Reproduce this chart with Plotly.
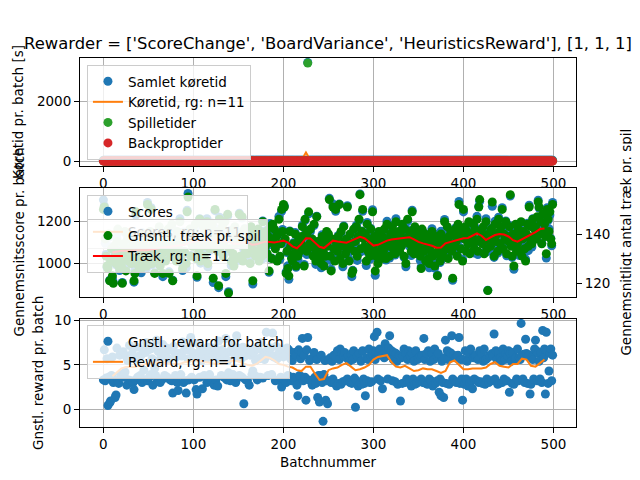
import plotly.graph_objects as go

# Batchnumre og x-værdier for de rullende gennemsnit (rg: n=11)
batchnumre = list(range(500))
rg_batchnumre = list(range(10, 491, 5))

# Køretider pr. batch [s]
backproptider = [
    21, 20, 22, 21, 20, 21, 22, 20, 21, 21, 20, 22, 21, 20, 21, 22, 21, 20, 21, 22,
    20, 21, 21, 22, 20, 21, 20, 22, 21, 20, 21, 21, 22, 20, 21, 20, 21, 22, 21, 20,
    22, 21, 20, 21, 21, 20, 22, 21, 20, 21, 22, 20, 21, 21, 20, 21, 22, 21, 20, 21,
    21, 20, 21, 22, 20, 21, 21, 20, 22, 21, 20, 21, 20, 22, 21, 21, 20, 21, 22, 20,
    20, 22, 21, 20, 21, 22, 21, 20, 21, 20, 22, 21, 21, 20, 21, 20, 22, 21, 20, 21,
    21, 21, 20, 22, 21, 20, 21, 22, 20, 21, 21, 20, 22, 21, 20, 21, 21, 22, 20, 21,
    22, 20, 21, 21, 20, 22, 21, 20, 21, 21, 22, 20, 21, 20, 21, 22, 21, 20, 21, 21,
    20, 21, 22, 20, 21, 21, 20, 21, 22, 21, 20, 21, 21, 20, 22, 21, 20, 21, 22, 20,
    21, 22, 20, 21, 20, 21, 22, 21, 20, 21, 21, 20, 22, 21, 21, 20, 21, 22, 20, 21,
    20, 21, 21, 22, 21, 20, 21, 20, 22, 21, 20, 22, 21, 21, 20, 21, 20, 22, 21, 20,
    21, 20, 22, 21, 20, 21, 21, 22, 20, 21, 22, 21, 20, 21, 21, 20, 22, 20, 21, 21,
    22, 21, 20, 21, 22, 20, 21, 23, 20, 22, 21, 20, 21, 22, 21, 20, 21, 21, 20, 22,
    20, 21, 21, 20, 22, 21, 20, 21, 21, 20, 21, 22, 20, 21, 21, 20, 22, 21, 20, 21,
    21, 22, 20, 21, 21, 20, 22, 21, 21, 20, 21, 22, 21, 20, 21, 21, 20, 22, 21, 20,
    20, 21, 22, 21, 20, 21, 21, 20, 22, 21, 21, 20, 21, 22, 20, 21, 21, 20, 21, 22,
    21, 20, 21, 22, 21, 20, 22, 21, 20, 21, 20, 21, 22, 21, 20, 22, 21, 20, 21, 21,
    22, 21, 20, 21, 20, 22, 21, 21, 20, 21, 22, 20, 21, 21, 20, 21, 22, 21, 20, 21,
    20, 22, 21, 20, 21, 21, 20, 22, 21, 20, 21, 21, 22, 20, 21, 20, 21, 22, 21, 21,
    21, 20, 21, 21, 22, 20, 21, 20, 22, 21, 20, 21, 21, 22, 20, 21, 20, 21, 21, 22,
    22, 21, 20, 22, 21, 21, 20, 21, 20, 22, 21, 20, 22, 21, 21, 20, 21, 22, 20, 21,
    21, 20, 22, 21, 20, 21, 22, 21, 21, 20, 21, 22, 20, 21, 20, 21, 22, 21, 20, 22,
    20, 21, 21, 20, 22, 21, 20, 21, 22, 21, 20, 21, 21, 20, 22, 21, 21, 20, 21, 20,
    21, 22, 20, 21, 21, 20, 21, 22, 20, 21, 22, 21, 20, 21, 21, 22, 20, 21, 21, 20,
    22, 20, 21, 21, 20, 22, 21, 20, 21, 21, 20, 22, 21, 21, 20, 21, 22, 20, 21, 21,
    20, 21, 22, 21, 21, 20, 22, 21, 20, 21, 21, 20, 21, 22, 20, 21, 21, 22, 20, 21,
]
spilletider = [
    25, 24, 26, 25, 25, 24, 26, 25, 24, 25, 26, 25, 24, 25, 26, 24, 25, 25, 26, 24,
    24, 25, 26, 24, 25, 26, 25, 24, 25, 26, 25, 24, 26, 25, 24, 25, 26, 25, 24, 25,
    26, 25, 24, 25, 26, 25, 25, 24, 26, 25, 24, 25, 26, 24, 25, 25, 26, 24, 25, 26,
    25, 26, 24, 25, 25, 26, 24, 25, 26, 25, 24, 26, 25, 24, 25, 26, 25, 25, 24, 26,
    24, 25, 25, 26, 24, 25, 26, 25, 24, 25, 26, 25, 24, 26, 25, 24, 25, 26, 25, 24,
    25, 24, 26, 25, 26, 24, 25, 25, 26, 24, 25, 26, 25, 24, 26, 25, 24, 25, 25, 26,
    26, 25, 24, 25, 24, 26, 25, 24, 25, 26, 24, 25, 26, 25, 24, 25, 26, 25, 24, 25,
    25, 26, 25, 24, 25, 26, 24, 25, 26, 25, 25, 24, 26, 25, 24, 26, 25, 24, 25, 26,
    24, 25, 26, 25, 24, 25, 25, 26, 24, 25, 26, 25, 24, 25, 26, 24, 25, 26, 25, 25,
    25, 24, 25, 26, 25, 24, 26, 25, 25, 24, 26, 25, 24, 25, 26, 25, 24, 25, 26, 24,
    26, 25, 24, 25, 26, 25, 24, 26, 25, 24, 25, 25, 26, 24, 25, 26, 25, 24, 25, 26,
    25, 24, 26, 25, 24, 25, 26, 3250, 24, 26, 25, 24, 25, 26, 25, 24, 25, 26, 25, 24,
    24, 25, 26, 25, 24, 25, 26, 25, 25, 24, 26, 25, 24, 25, 26, 25, 24, 25, 26, 25,
    25, 26, 24, 25, 26, 25, 24, 25, 25, 26, 24, 25, 26, 25, 24, 26, 25, 24, 25, 26,
    26, 24, 25, 26, 25, 24, 25, 26, 24, 25, 26, 25, 24, 25, 26, 25, 24, 26, 25, 24,
    25, 25, 26, 24, 25, 26, 25, 24, 26, 25, 24, 25, 26, 25, 25, 24, 26, 25, 24, 25,
    24, 26, 25, 24, 25, 26, 25, 24, 25, 26, 25, 24, 26, 25, 24, 25, 25, 26, 24, 25,
    26, 25, 24, 25, 26, 24, 25, 26, 25, 24, 25, 26, 25, 24, 25, 26, 24, 25, 26, 25,
    25, 24, 26, 25, 24, 25, 26, 25, 24, 26, 25, 25, 24, 26, 25, 24, 25, 26, 25, 24,
    24, 25, 25, 26, 24, 25, 26, 25, 24, 25, 26, 24, 25, 26, 25, 24, 25, 26, 25, 25,
    26, 25, 24, 25, 26, 25, 24, 25, 26, 24, 25, 26, 25, 24, 26, 25, 24, 25, 26, 25,
    25, 26, 25, 24, 25, 26, 24, 25, 25, 26, 24, 25, 26, 25, 24, 25, 26, 24, 25, 26,
    24, 25, 26, 25, 25, 24, 26, 25, 24, 25, 26, 25, 24, 26, 25, 24, 25, 26, 25, 24,
    25, 24, 25, 26, 24, 25, 26, 25, 25, 24, 26, 25, 24, 25, 26, 25, 24, 25, 26, 25,
    26, 25, 24, 25, 26, 24, 25, 26, 25, 24, 25, 26, 25, 24, 25, 26, 25, 24, 26, 25,
]
samlet_koeretid = [
    46, 44, 48, 46, 45, 45, 48, 45, 45, 46, 46, 47, 45, 45, 47, 46, 46, 45, 47, 46,
    44, 46, 47, 46, 45, 47, 45, 46, 46, 46, 46, 45, 48, 45, 45, 45, 47, 47, 45, 45,
    48, 46, 44, 46, 47, 45, 47, 45, 46, 46, 46, 45, 47, 45, 45, 46, 48, 45, 45, 47,
    46, 46, 45, 47, 45, 47, 45, 45, 48, 46, 44, 47, 45, 46, 46, 47, 45, 46, 46, 46,
    44, 47, 46, 46, 45, 47, 47, 45, 45, 45, 48, 46, 45, 46, 46, 44, 47, 47, 45, 45,
    46, 45, 46, 47, 47, 44, 46, 47, 46, 45, 46, 46, 47, 45, 46, 46, 45, 47, 45, 47,
    48, 45, 44, 46, 44, 48, 46, 44, 46, 47, 46, 45, 47, 45, 45, 47, 47, 45, 45, 46,
    45, 47, 47, 44, 46, 47, 44, 46, 48, 46, 45, 45, 47, 45, 46, 46, 45, 45, 47, 46,
    45, 47, 46, 46, 44, 46, 47, 47, 44, 46, 47, 45, 46, 46, 47, 44, 46, 48, 45, 46,
    45, 45, 46, 48, 46, 44, 47, 45, 47, 45, 46, 47, 45, 46, 46, 46, 44, 47, 47, 44,
    47, 45, 46, 46, 46, 46, 45, 48, 45, 45, 47, 46, 46, 45, 46, 46, 47, 44, 46, 47,
    47, 45, 46, 46, 46, 45, 47, 3272, 44, 48, 46, 44, 46, 48, 46, 44, 46, 47, 45, 46,
    44, 46, 47, 45, 46, 46, 46, 46, 46, 44, 47, 47, 44, 46, 47, 45, 46, 46, 46, 46,
    46, 48, 44, 46, 47, 45, 46, 46, 46, 46, 45, 47, 47, 45, 45, 47, 45, 46, 46, 46,
    46, 45, 47, 47, 45, 45, 46, 46, 46, 46, 47, 45, 45, 47, 46, 46, 45, 46, 46, 46,
    46, 45, 47, 46, 46, 46, 47, 45, 46, 46, 44, 46, 48, 46, 45, 46, 47, 45, 46, 46,
    46, 47, 45, 45, 45, 48, 46, 45, 45, 47, 47, 44, 47, 46, 45, 46, 47, 47, 45, 46,
    46, 47, 45, 45, 47, 45, 46, 48, 46, 44, 46, 47, 47, 44, 46, 46, 45, 47, 47, 46,
    46, 44, 47, 46, 46, 45, 47, 45, 46, 47, 45, 46, 45, 48, 45, 45, 45, 47, 46, 46,
    46, 46, 45, 48, 45, 46, 46, 46, 44, 47, 47, 44, 47, 47, 46, 44, 46, 48, 45, 46,
    47, 45, 46, 46, 46, 46, 46, 46, 47, 44, 46, 48, 45, 45, 46, 46, 46, 46, 45, 47,
    45, 47, 46, 44, 47, 47, 44, 46, 47, 47, 44, 46, 47, 45, 46, 46, 47, 44, 46, 46,
    45, 47, 46, 46, 46, 44, 47, 47, 44, 46, 48, 46, 44, 47, 46, 46, 45, 47, 46, 44,
    47, 44, 46, 47, 44, 47, 47, 45, 46, 45, 46, 47, 45, 46, 46, 46, 46, 45, 47, 46,
    46, 46, 46, 46, 47, 44, 47, 47, 45, 45, 46, 46, 46, 46, 45, 47, 46, 46, 46, 46,
]
koeretid_rg = [
    46, 46, 45, 46, 46, 45, 46, 46, 46, 45,
    46, 46, 46, 45, 46, 46, 45, 46, 46, 46,
    45, 46, 46, 46, 45, 46, 46, 45, 46, 46,
    46, 45, 46, 46, 46, 45, 46, 46, 45, 46,
    46, 46, 46, 300, 47, 46, 45, 46, 46, 46,
    46, 45, 46, 46, 46, 45, 46, 46, 46, 45,
    46, 46, 45, 46, 46, 46, 45, 46, 46, 46,
    45, 46, 46, 46, 45, 46, 46, 45, 46, 46,
    46, 45, 46, 46, 46, 45, 46, 46, 45, 46,
    46, 46, 45, 46, 46, 46, 45,
]

# Gennemsnitsscore pr. batch (venstre akse) og gennemsnitligt antal træk (højre akse)
scores = [
    1300, 1272, 1095, 1042, 981, 989, 1123, 920, 1001, 1079,
    928, 910, 1060, 1042, 993, 1118, 1147, 1013, 966, 1067,
    975, 910, 1072, 1030, 1144, 978, 1042, 1118, 1001, 1079,
    1022, 1004, 1107, 1100, 911, 966, 1228, 1025, 1071, 997,
    1092, 1050, 955, 1146, 1004, 1094, 1019, 1118, 978, 1288,
    1057, 1015, 1130, 1263, 993, 1106, 1019, 955, 1118, 1067,
    1010, 1120, 1154, 995, 1074, 1059, 937, 1141, 1083, 1020,
    1115, 1062, 1142, 960, 1098, 1048, 1170, 920, 1083, 1079,
    1103, 1015, 1130, 1088, 1039, 1211, 1007, 1107, 966, 1148,
    1045, 1132, 979, 1251, 1330, 1118, 1147, 1037, 1129, 1090,
    1138, 1097, 1165, 1030, 934, 1129, 1042, 1211, 1001, 1137,
    1068, 1179, 1014, 1146, 1098, 1211, 984, 1130, 1060, 1172,
    1103, 1190, 909, 1100, 1249, 1164, 1112, 1060, 885, 1218,
    1126, 1085, 1154, 1042, 1098, 1211, 937, 1130, 1223, 866,
    1057, 1155, 990, 1123, 1039, 1001, 1159, 1095, 1013, 1137,
    1092, 1237, 1014, 1146, 1214, 1024, 1065, 1165, 1048, 1125,
    1033, 1132, 1072, 1007, 1168, 1083, 902, 1141, 1095, 1044,
    1103, 1062, 1142, 1018, 1086, 1152, 1019, 1200, 1060, 1114,
    1068, 1155, 1025, 1135, 958, 1188, 1089, 1025, 1176, 1102,
    1150, 1074, 1107, 1018, 1132, 1222, 1019, 1095, 1246, 1160,
    1266, 1272, 1095, 960, 1051, 989, 925, 1153, 1071, 1032,
    998, 1097, 1025, 1146, 981, 1094, 1019, 1118, 1048, 1114,
    1115, 1179, 1060, 995, 1202, 1152, 1042, 1153, 1234, 1102,
    1150, 1085, 1095, 1042, 1179, 1083, 995, 1223, 1095, 1067,
    1010, 1097, 979, 1135, 1051, 1001, 1089, 1037, 1141, 1090,
    1126, 1307, 1014, 972, 1109, 1281, 1054, 1013, 1246, 1102,
    1045, 1132, 1280, 1030, 1144, 1094, 984, 1177, 1095, 1055,
    1103, 1272, 1049, 1018, 1132, 1106, 937, 967, 1153, 1067,
    1092, 1179, 1014, 1135, 1202, 1328, 1054, 1153, 1246, 1125,
    1068, 1143, 990, 1193, 1051, 1129, 1019, 1165, 1083, 1253,
    1057, 1132, 944, 1042, 1098, 1013, 1135, 1060, 1083, 1032,
    1115, 1062, 1142, 1100, 1016, 1199, 1065, 1118, 1025, 1148,
    1092, 1179, 1049, 1146, 1039, 1211, 1077, 1130, 1141, 1067,
    1126, 1085, 1165, 1123, 1028, 1176, 984, 1107, 1199, 1137,
    1080, 1155, 1037, 1251, 1109, 1059, 1159, 1083, 1129, 1114,
    1115, 1074, 1014, 983, 1156, 1118, 1042, 1141, 1001, 1125,
    1068, 1027, 979, 1123, 1051, 1164, 1019, 1095, 978, 1137,
    1033, 945, 1084, 1077, 1004, 1152, 1019, 1095, 1048, 1207,
    1103, 1074, 1154, 1030, 1121, 1106, 1135, 1060, 920, 1148,
    1068, 1167, 1084, 1042, 1179, 1292, 1112, 1072, 1141, 1020,
    1243, 1120, 1154, 1065, 1144, 1106, 1182, 1048, 1129, 1114,
    1115, 1190, 1049, 1170, 1098, 1222, 1042, 1270, 1293, 1125,
    1138, 1097, 1154, 1053, 1121, 1211, 1054, 873, 1129, 1114,
    1068, 1167, 1270, 1123, 1028, 1199, 1089, 1141, 1048, 1218,
    1138, 1097, 1154, 1263, 1063, 1152, 1100, 1200, 1036, 1137,
    1092, 1179, 1318, 1088, 1028, 1152, 972, 1118, 1176, 1067,
    1080, 1167, 1037, 1135, 1191, 1048, 1100, 1153, 1060, 1020,
    1126, 1190, 1060, 1275, 1109, 1188, 1077, 1211, 1118, 1172,
    1162, 1120, 1200, 1298, 1261, 1152, 1182, 1095, 1223, 1160,
    1173, 1132, 1025, 1263, 1202, 1164, 1228, 1118, 1083, 1288,
]
scores_rg = [
    1051, 1056, 1059, 1061, 1058, 1060, 1062, 1059, 1064, 1067,
    1070, 1074, 1075, 1079, 1080, 1083, 1088, 1096, 1103, 1105,
    1110, 1111, 1114, 1110, 1108, 1105, 1100, 1093, 1090, 1097,
    1102, 1086, 1091, 1098, 1103, 1100, 1098, 1106, 1116, 1101,
    1083, 1074, 1097, 1124, 1117, 1098, 1077, 1073, 1089, 1107,
    1102, 1100, 1097, 1106, 1114, 1126, 1118, 1102, 1083, 1088,
    1097, 1107, 1112, 1117, 1119, 1121, 1124, 1113, 1101, 1093,
    1090, 1083, 1072, 1075, 1093, 1101, 1106, 1114, 1120, 1120,
    1130, 1142, 1129, 1110, 1123, 1133, 1139, 1135, 1126, 1108,
    1101, 1112, 1127, 1137, 1147, 1152, 1158,
]
traek = [
    150, 151, 138, 131, 127, 126, 140, 121, 129, 134,
    123, 120, 135, 131, 128, 137, 142, 129, 126, 133,
    127, 120, 136, 130, 141, 125, 133, 138, 129, 134,
    131, 128, 139, 136, 121, 124, 149, 130, 135, 127,
    137, 132, 126, 140, 129, 135, 131, 138, 127, 152,
    134, 129, 141, 150, 128, 136, 131, 124, 139, 133,
    130, 138, 143, 127, 135, 132, 124, 140, 136, 129,
    139, 133, 142, 124, 137, 131, 144, 121, 136, 134,
    138, 129, 141, 135, 132, 145, 130, 137, 126, 140,
    133, 139, 128, 149, 155, 137, 142, 131, 140, 135,
    141, 136, 144, 130, 123, 138, 133, 146, 129, 139,
    135, 143, 131, 140, 137, 145, 128, 139, 134, 142,
    138, 144, 122, 136, 150, 141, 139, 133, 119, 146,
    140, 135, 143, 131, 137, 145, 124, 139, 148, 116,
    134, 141, 129, 138, 132, 127, 143, 136, 130, 139,
    137, 148, 131, 140, 147, 129, 135, 142, 133, 138,
    132, 139, 136, 128, 143, 134, 121, 140, 137, 131,
    138, 133, 142, 129, 136, 140, 131, 145, 134, 137,
    135, 141, 132, 139, 125, 143, 137, 130, 144, 136,
    142, 134, 139, 129, 140, 146, 131, 136, 150, 141,
    152, 151, 138, 124, 133, 126, 123, 141, 135, 130,
    129, 136, 132, 140, 127, 135, 131, 138, 133, 137,
    139, 143, 135, 127, 146, 140, 133, 141, 149, 136,
    142, 135, 138, 131, 144, 134, 129, 147, 137, 133,
    130, 136, 128, 139, 133, 127, 137, 131, 141, 135,
    140, 154, 131, 125, 138, 151, 134, 129, 150, 136,
    133, 139, 152, 130, 141, 135, 128, 143, 137, 132,
    138, 151, 134, 129, 140, 136, 124, 125, 142, 133,
    137, 143, 131, 139, 146, 156, 134, 141, 150, 138,
    135, 140, 129, 144, 133, 138, 131, 142, 136, 149,
    134, 139, 125, 131, 137, 128, 141, 133, 136, 130,
    139, 133, 142, 136, 130, 144, 135, 138, 131, 140,
    137, 143, 134, 140, 132, 145, 136, 139, 141, 133,
    140, 135, 144, 138, 131, 142, 128, 137, 146, 139,
    136, 141, 133, 149, 138, 132, 143, 135, 140, 137,
    139, 134, 131, 126, 142, 137, 133, 140, 129, 138,
    135, 130, 128, 138, 133, 141, 131, 136, 127, 139,
    132, 123, 137, 134, 129, 140, 131, 136, 133, 145,
    138, 134, 143, 130, 139, 136, 141, 133, 122, 140,
    135, 142, 137, 131, 144, 152, 139, 134, 141, 129,
    150, 138, 143, 133, 141, 136, 145, 132, 140, 137,
    139, 144, 134, 142, 137, 146, 133, 151, 154, 138,
    141, 136, 143, 132, 139, 145, 134, 117, 140, 137,
    135, 142, 153, 138, 131, 144, 137, 140, 133, 146,
    141, 136, 143, 150, 134, 140, 138, 145, 132, 139,
    137, 143, 156, 135, 131, 140, 127, 138, 144, 133,
    136, 142, 133, 139, 145, 131, 138, 141, 134, 129,
    140, 144, 135, 151, 138, 143, 136, 146, 139, 142,
    143, 138, 147, 153, 151, 140, 145, 136, 148, 141,
    144, 139, 132, 150, 146, 141, 149, 138, 136, 152,
]
traek_rg = [
    132.5, 133, 133.2, 133.2, 133.2, 133.3, 133.3, 133.3, 133.5, 133.8,
    134.2, 134.4, 134.6, 134.8, 135, 135.1, 135.6, 136.4, 136.9, 137.2,
    137.5, 137.7, 137.8, 137.6, 137.3, 137.2, 136.8, 136, 135.9, 136.4,
    136.8, 135.6, 135.8, 136.4, 136.9, 136.8, 136.6, 136.9, 137.3, 136.5,
    135, 134.2, 136, 138.3, 138.2, 136.5, 134.8, 134.3, 135.8, 137.3,
    137, 136.6, 136.5, 137.2, 138, 138.9, 138.3, 136.8, 135.3, 135.6,
    136.5, 137.3, 137.8, 138.1, 138.3, 138.6, 138.7, 137.8, 136.8, 136.2,
    135.8, 135.2, 134.4, 134.5, 136.2, 136.8, 137.2, 137.9, 138.3, 138.4,
    139.2, 140.3, 139.3, 137.6, 138.6, 139.6, 140, 139.8, 139, 137.5,
    136.9, 137.8, 139, 139.8, 140.8, 142, 142.2,
]

# Gennemsnitlig reward pr. batch
reward = [
    3.3, 6.7, 3.2, 3.5, 5.7, 0.4, 3.6, 0.7, 0.9, 3.8,
    5.9, 3.0, 3.3, 1.3, 1.6, 6.9, 3.2, 2.9, 6.1, 3.9,
    6.4, 3.6, 6.5, 3.8, 4.2, 6.0, 2.7, 5.5, 3.3, 7.2,
    5.7, 3.2, 6.3, 3.0, 2.2, 5.9, 3.3, 7.0, 3.6, 5.6,
    6.0, 3.8, 6.1, 3.0, 6.7, 4.4, 3.3, 6.4, 7.5, 3.2,
    6.7, 3.6, 6.8, 3.9, 5.7, 2.7, 6.9, 4.6, 3.8, 7.8,
    3.2, 6.5, 5.5, 3.0, 5.9, 3.3, 7.3, 6.4, 3.8, 6.1,
    6.9, 3.6, 5.7, 6.8, 3.3, 6.7, 3.2, 1.8, 7.1, 6.4,
    3.8, 5.9, 3.0, 2.1, 6.3, 6.1, 3.9, 6.0, 7.6, 3.0,
    6.7, 3.2, 1.8, 6.7, 5.7, 3.3, 6.9, 8.1, 3.6, 6.4,
    6.3, 3.3, 5.9, 2.2, 1.7, 7.4, 6.4, 3.6, 6.8, 5.5,
    2.3, 6.0, 3.8, 6.5, 5.7, 3.0, 7.0, 5.9, 3.9, 6.7,
    3.2, 6.9, 6.1, 2.7, 6.9, 3.3, 6.4, 2.6, 7.7, 5.6,
    6.0, 3.8, 6.7, 5.7, 3.6, 5.9, 8.0, 3.3, 5.5, 4.1,
    6.5, 3.2, 6.7, 7.2, 3.9, 6.4, 6.1, 3.0, 8.3, 6.9,
    5.9, 3.8, 6.3, 5.7, 3.6, 7.0, 0.6, 6.0, 3.3, 6.4,
    3.2, 6.7, 2.7, 6.1, 6.5, 3.9, 4.3, 6.4, 3.8, 5.5,
    6.9, 3.3, 6.8, 5.7, 3.6, 7.5, 5.9, 3.5, 6.0, 5.6,
    6.5, 8.7, 6.7, 3.8, 6.9, 6.1, 6.9, 3.9, 8.6, 5.9,
    6.0, 3.2, 7.1, 5.7, 3.3, 6.3, 6.4, 3.6, 2.5, 6.8,
    5.9, 3.3, 6.1, 3.0, 6.9, 3.8, 6.7, 3.5, 5.7, 3.2,
    5.5, 3.6, 6.4, 3.3, 6.1, 2.7, 1.5, 6.7, 3.8, 5.7,
    6.4, 8.0, 3.2, 6.1, 3.6, 1.0, 6.7, 8.1, 3.3, 5.5,
    3.2, 5.7, 2.7, 3.3, 6.4, 3.6, 2.9, 5.6, 1.3, 3.8,
    0.8, 3.8, 6.1, 3.0, -1.4, 3.9, 5.5, 1.0, 3.2, 0.6,
    5.6, 3.2, 5.8, 3.0, 5.4, 3.4, 6.1, 2.9, 6.0, 2.6,
    6.6, 2.9, 5.6, 6.8, 2.8, 6.3, 3.1, 6.0, 6.4, 3.2,
    5.8, 3.4, 6.1, 5.4, 3.0, 6.2, 2.9, 5.6, 6.6, 3.5,
    0.2, 3.2, 6.0, 2.6, 6.3, 2.9, 5.4, 2.8, 6.6, 3.4,
    2.9, 1.5, 5.8, 3.2, 5.6, 6.8, 3.0, 6.0, 3.1, 6.1,
    6.6, 8.2, 5.6, 6.4, 8.7, 3.4, 6.3, 6.8, 3.2, 6.1,
    2.3, 6.2, 5.8, 7.4, 6.0, 6.8, 3.4, 6.9, 8.3, 6.3,
    6.6, 3.2, 5.6, 6.4, 3.1, 6.3, 5.4, 2.8, 6.1, 6.0,
    0.9, 5.8, 2.9, 6.0, 6.8, 3.0, 6.3, 3.4, 5.6, 6.6,
    3.2, 6.0, 2.6, 6.3, 3.4, 5.4, 2.8, 6.6, 2.9, 5.6,
    5.8, 3.2, 6.0, 3.4, 6.1, 3.0, 8.0, 5.6, 2.9, 6.3,
    2.8, 6.6, 3.4, 5.4, 3.2, 6.3, 2.6, 5.6, 6.8, 2.9,
    6.0, 3.2, 6.3, 1.9, 3.4, 1.5, 5.4, 3.0, 1.3, 5.8,
    7.8, 2.9, 6.6, 5.6, 2.8, 6.4, 6.3, 8.3, 3.4, 6.1,
    3.2, 5.8, 3.0, 6.0, 6.1, 8.1, 2.9, 5.6, 3.4, 1.0,
    5.6, 2.8, 6.6, 3.4, 5.4, 2.6, 6.3, 2.9, 6.8, 3.2,
    2.3, 5.8, 3.4, 6.0, 6.1, 3.2, 5.6, 3.0, 6.6, 3.1,
    6.3, 2.9, 5.4, 6.8, 2.8, 5.6, 3.4, 5.8, 3.0, 6.0,
    6.1, 3.2, 6.3, 6.0, 8.5, 3.4, 6.6, 5.6, 2.8, 6.4,
    2.9, 5.8, 5.4, 3.0, 6.8, 3.4, 5.6, 6.3, 3.2, 6.0,
    6.6, 1.9, 6.3, 5.4, 2.9, 6.4, 2.8, 5.6, 5.8, 3.4,
    6.8, 3.2, 5.8, 5.6, 9.7, 6.1, 3.4, 6.2, 3.0, 7.9,
    6.3, 2.9, 6.0, 6.1, 1.7, 2.8, 5.8, 5.6, 3.4, 6.8,
    7.8, 6.6, 3.2, 6.3, 5.4, 3.4, 6.4, 3.0, 8.9, 5.8,
    6.8, 1.7, 8.7, 6.6, 2.9, 4.3, 6.3, 6.8, 3.2, 6.1,
]
reward_rg = [
    3.7, 4.2, 4.6, 4.75, 4.8, 4.75, 4.9, 5.1, 5.2, 5.25,
    5.3, 5.3, 5.2, 5.1, 5.1, 5.1, 5.3, 5.4, 5.5, 5.5,
    5.4, 5.3, 5.2, 5.1, 5.1, 5.2, 5.4, 5.5, 5.4, 5.2,
    5.0, 4.9, 5.1, 5.5, 5.9, 5.8, 5.5, 5.1, 5.0, 4.8,
    4.7, 4.4, 4.3, 4.8, 4.8, 4.0, 3.3, 3.4, 4.4, 4.6,
    4.7, 5.0, 5.2, 4.8, 4.4, 4.5, 4.7, 5.0, 5.6, 5.9,
    6.0, 6.1, 5.3, 4.8, 4.7, 4.9, 4.6, 4.3, 4.4, 4.6,
    4.5, 4.5, 4.3, 4.1, 4.3, 5.3, 5.5, 5.0, 4.5, 4.5,
    4.6, 4.6, 4.6, 4.7, 5.1, 5.3, 4.9, 4.8, 4.7, 5.1,
    5.1, 5.7, 5.6, 4.9, 4.8, 5.2, 5.6,
]

titel = "Rewarder = ['ScoreChange', 'BoardVariance', 'HeuristicsReward'], [1, 1, 1]"
x_ticks = [0, 100, 200, 300, 400, 500]

fig = go.Figure()

# Øverste graf: køretider
fig.add_trace(go.Scatter(x=batchnumre, y=samlet_koeretid, mode='markers', name='Samlet køretid',
                         marker={'color': '#1f77b4', 'size': 9}, xaxis='x', yaxis='y', legend='legend'))
fig.add_trace(go.Scatter(x=rg_batchnumre, y=koeretid_rg, mode='lines', name='Køretid, rg: n=11',
                         line={'color': '#ff7f0e', 'width': 2}, xaxis='x', yaxis='y', legend='legend'))
fig.add_trace(go.Scatter(x=batchnumre, y=spilletider, mode='markers', name='Spilletider',
                         marker={'color': '#2ca02c', 'size': 9}, xaxis='x', yaxis='y', legend='legend'))
fig.add_trace(go.Scatter(x=batchnumre, y=backproptider, mode='markers', name='Backproptider',
                         marker={'color': '#d62728', 'size': 9}, xaxis='x', yaxis='y', legend='legend'))

# Midterste graf: scores (venstre) og træk (højre)
fig.add_trace(go.Scatter(x=batchnumre, y=scores, mode='markers', name='Scores',
                         marker={'color': '#1f77b4', 'size': 9}, xaxis='x2', yaxis='y2', legend='legend2'))
fig.add_trace(go.Scatter(x=rg_batchnumre, y=scores_rg, mode='lines', name='Scores, rg: n=11',
                         line={'color': '#ff7f0e', 'width': 2}, xaxis='x2', yaxis='y2', legend='legend2'))
fig.add_trace(go.Scatter(x=batchnumre, y=traek, mode='markers', name='Gnsntl. træk pr. spil',
                         marker={'color': 'green', 'size': 9}, xaxis='x2', yaxis='y3', legend='legend3'))
fig.add_trace(go.Scatter(x=rg_batchnumre, y=traek_rg, mode='lines', name='Træk, rg: n=11',
                         line={'color': 'red', 'width': 2}, xaxis='x2', yaxis='y3', legend='legend3'))

# Nederste graf: reward
fig.add_trace(go.Scatter(x=batchnumre, y=reward, mode='markers', name='Gnstl. reward for batch',
                         marker={'color': '#1f77b4', 'size': 9}, xaxis='x3', yaxis='y4', legend='legend4'))
fig.add_trace(go.Scatter(x=rg_batchnumre, y=reward_rg, mode='lines', name='Reward, rg: n=11',
                         line={'color': '#ff7f0e', 'width': 2}, xaxis='x3', yaxis='y4', legend='legend4'))

akse = dict(showline=True, linecolor='black', linewidth=1, mirror=True, ticks='outside', ticklen=5,
            tickwidth=1, tickcolor='black', showgrid=True, gridcolor='#b0b0b0', gridwidth=1, zeroline=False)
x_akse = dict(akse, range=[-26, 525], tickvals=x_ticks)
legende = dict(x=0.014, xanchor='left', yanchor='top', bgcolor='rgba(255,255,255,0.8)',
               bordercolor='#cccccc', borderwidth=1, font={'size': 13.5})

# siden har 8px kant, så figuren gøres 8px mindre
fig.update_layout(
    width=632, height=472, plot_bgcolor='white', paper_bgcolor='white',
    font={'family': 'DejaVu Sans', 'size': 13.5, 'color': 'black'},
    margin={'l': 72, 'r': 64, 't': 50, 'b': 53},
    title={'text': titel, 'x': 0.5, 'xref': 'paper', 'xanchor': 'center', 'y': 0.9258, 'yanchor': 'middle',
           'font': {'size': 16.4}},
    xaxis=dict(x_akse, anchor='y'),
    xaxis2=dict(x_akse, anchor='y2'),
    xaxis3=dict(x_akse, anchor='y4'),
    yaxis=dict(akse, anchor='x', domain=[0.7073, 1], range=[-142, 3417], tickvals=[0, 2000]),
    yaxis2=dict(akse, anchor='x2', domain=[0.3523, 0.6477], range=[841, 1356], tickvals=[1000, 1200]),
    yaxis3=dict(akse, anchor='x2', overlaying='y2', side='right', range=[114.4, 158.7], tickvals=[120, 140],
                showgrid=False, mirror=False),
    yaxis4=dict(akse, anchor='x3', domain=[0, 0.2927], range=[-2.04, 10.2], tickvals=[0, 5, 10]),
    legend=dict(legende, y=0.981),
    legend2=dict(legende, y=0.6287),
    legend3=dict(legende, y=0.5629),
    legend4=dict(legende, y=0.2764),
    showlegend=True,
)

# Aksetitler
for tekst, x, y in [('Køretid pr. batch [s]', -0.125, 0.8537),
                    ('Gennemsnitsscore pr. batch', -0.125, 0.5),
                    ('Gnstl. reward pr. batch', -0.0847, 0.1463),
                    ('Gennemsnitligt antal træk pr. spil', 1.099, 0.5)]:
    fig.add_annotation(text=tekst, x=x, y=y, xref='paper', yref='paper', textangle=-90,
                       showarrow=False, xanchor='center', yanchor='middle', font={'size': 13.5})
fig.add_annotation(text='Batchnummer', x=0.5, y=-0.0949, xref='paper', yref='paper',
                   showarrow=False, xanchor='center', yanchor='middle', font={'size': 13.5})

fig.write_html("out.html")
